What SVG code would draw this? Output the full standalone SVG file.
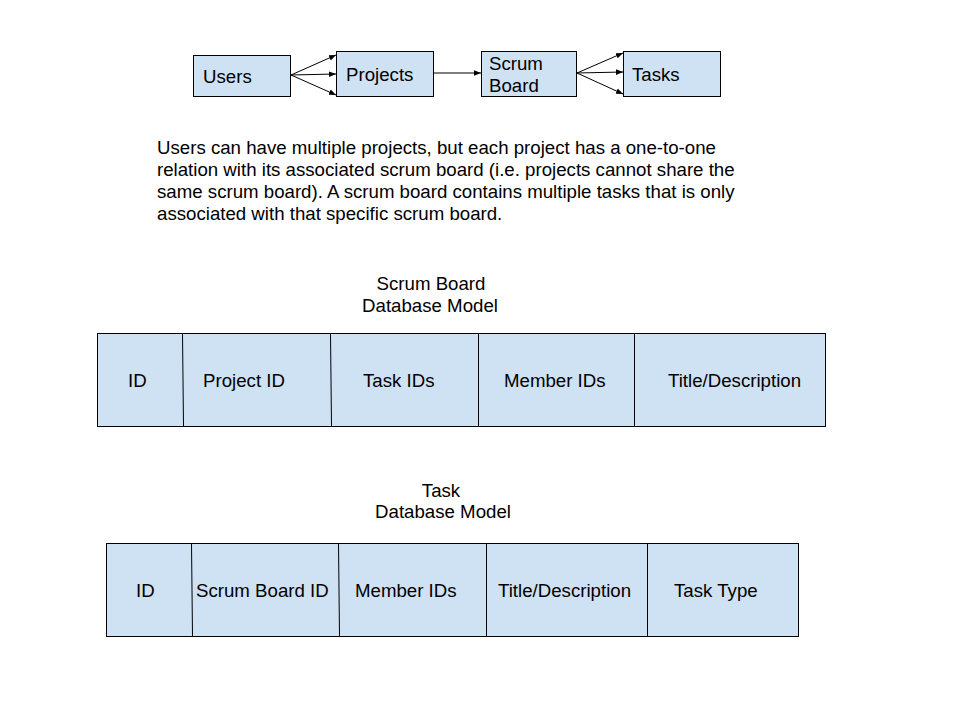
<svg xmlns="http://www.w3.org/2000/svg" width="960" height="720" viewBox="0 0 960 720">
<defs>
<marker id="ah" viewBox="0 0 10 10" refX="10" refY="5" markerWidth="7" markerHeight="7" markerUnits="userSpaceOnUse" orient="auto">
<path d="M0,1 L10,5 L0,9 Z" fill="#000"/>
</marker>
</defs>
<style>
.box{fill:#cfe2f3;stroke:#000;stroke-width:1}
.div{stroke:#000;stroke-width:1;fill:none}
.t{font-family:"Liberation Sans",Arial,sans-serif;font-size:18.67px;fill:#000}
.c{stroke:#000;stroke-width:1;fill:none;marker-end:url(#ah)}
</style>
<rect width="960" height="720" fill="#fff"/>
<g id="users"><rect class="box" x="193.5" y="55.5" width="97" height="41"/><text class="t" x="203" y="83">Users</text></g>
<g id="projects"><rect class="box" x="336.5" y="51.5" width="97" height="45"/><text class="t" x="346" y="81">Projects</text></g>
<g id="scrumboard"><rect class="box" x="481.5" y="51.5" width="95" height="45"/><text class="t" x="489" y="70">Scrum</text><text class="t" x="489" y="92">Board</text></g>
<g id="tasks"><rect class="box" x="623.5" y="51.5" width="97" height="45"/><text class="t" x="632" y="81">Tasks</text></g>
<g id="connectors">
<line class="c" x1="291" y1="75" x2="336" y2="55"/>
<line class="c" x1="291" y1="75" x2="336" y2="74"/>
<line class="c" x1="291" y1="75" x2="336" y2="95"/>
<line class="c" x1="434" y1="73" x2="481" y2="73"/>
<line class="c" x1="577" y1="73" x2="623" y2="53"/>
<line class="c" x1="577" y1="73" x2="623" y2="72"/>
<line class="c" x1="577" y1="73" x2="623" y2="94"/>
</g>
<g id="description">
<text class="t" x="157" y="154">Users can have multiple projects, but each project has a one-to-one</text>
<text class="t" x="157" y="176">relation with its associated scrum board (i.e. projects cannot share the</text>
<text class="t" x="157" y="198">same scrum board). A scrum board contains multiple tasks that is only</text>
<text class="t" x="157" y="220">associated with that specific scrum board.</text>
</g>
<g id="scrumboard-model">
<text class="t" x="431" y="290" text-anchor="middle">Scrum Board</text>
<text class="t" x="430" y="312" text-anchor="middle">Database Model</text>
<rect class="box" x="97.5" y="333.5" width="728" height="93"/>
<line class="div" x1="182.5" y1="333.5" x2="183.5" y2="426.5"/>
<line class="div" x1="330.5" y1="333.5" x2="331.5" y2="426.5"/>
<line class="div" x1="478.5" y1="333.5" x2="478.5" y2="426.5"/>
<line class="div" x1="634.5" y1="333.5" x2="634.5" y2="426.5"/>
<text class="t" x="128" y="387">ID</text>
<text class="t" x="203" y="387">Project ID</text>
<text class="t" x="363" y="387">Task IDs</text>
<text class="t" x="504" y="387">Member IDs</text>
<text class="t" x="668" y="387">Title/Description</text>
</g>
<g id="task-model">
<text class="t" x="441" y="497" text-anchor="middle">Task</text>
<text class="t" x="443" y="518" text-anchor="middle">Database Model</text>
<rect class="box" x="106.5" y="543.5" width="692" height="93"/>
<line class="div" x1="191.5" y1="543.5" x2="192.5" y2="636.5"/>
<line class="div" x1="338.5" y1="543.5" x2="339.5" y2="636.5"/>
<line class="div" x1="486.5" y1="543.5" x2="486.5" y2="636.5"/>
<line class="div" x1="647.5" y1="543.5" x2="647.5" y2="636.5"/>
<text class="t" x="136" y="597">ID</text>
<text class="t" x="196" y="597">Scrum Board ID</text>
<text class="t" x="355" y="597">Member IDs</text>
<text class="t" x="498" y="597">Title/Description</text>
<text class="t" x="674" y="597">Task Type</text>
</g>
</svg>
